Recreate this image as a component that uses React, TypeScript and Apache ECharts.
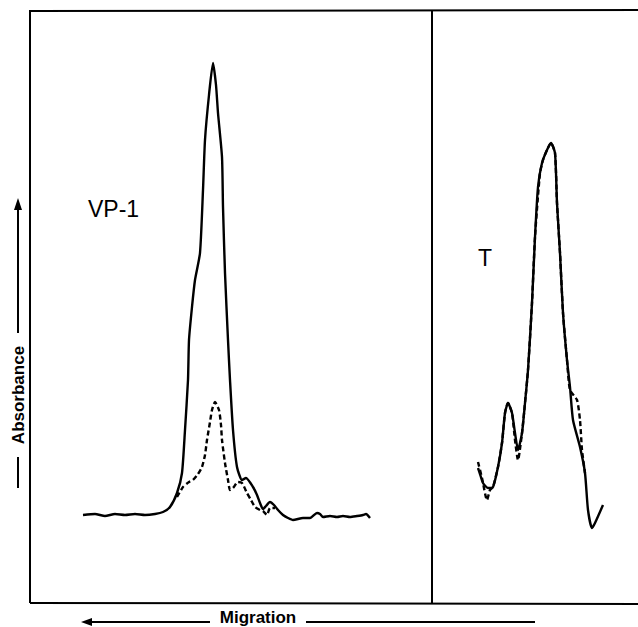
import React, { useEffect, useRef } from "react";
import * as echarts from "echarts";

// Left panel (VP-1): [migration, absorbance] in arbitrary units
const vp1Solid: [number, number][] = [
  [53, 88], [65, 89], [75, 87], [85, 89], [95, 88], [105, 89], [115, 88], [125, 89], [133, 91],
  [140, 96], [147, 110], [152, 130], [155, 173], [158, 223], [159, 263], [162, 296], [165, 323],
  [170, 350], [173, 413], [175, 463], [179, 508], [183, 540], [186, 518], [188, 490], [192, 446],
  [193, 396], [195, 330], [198, 263], [200, 223], [203, 173], [207, 136], [212, 123], [216, 125],
  [223, 116], [227, 108], [230, 100], [233, 94], [236, 97], [240, 101], [244, 98], [248, 93],
  [253, 88], [258, 85], [263, 83], [273, 85], [280, 85], [287, 90], [290, 89], [293, 86],
  [300, 87], [307, 86], [313, 87], [320, 86], [327, 87], [333, 88], [336, 89], [340, 85],
];
const vp1Dashed: [number, number][] = [
  [147, 106], [153, 116], [159, 121], [163, 123], [168, 129], [172, 136], [175, 148], [177, 163],
  [180, 181], [182, 193], [185, 201], [189, 193], [191, 178], [192, 163], [195, 140], [198, 123],
  [200, 113], [203, 115], [208, 121], [212, 120], [217, 110], [221, 103], [225, 96], [230, 93],
  [233, 92], [237, 88], [240, 95], [245, 95],
];
// Right panel (T)
const tSolid: [number, number][] = [
  [46, 135], [48, 129], [51, 120], [56, 115], [61, 116], [66, 136], [70, 160], [73, 190], [76, 200],
  [80, 190], [83, 170], [86, 153], [90, 170], [93, 200], [96, 233], [100, 300], [103, 366],
  [106, 416], [110, 440], [115, 453], [119, 460], [123, 450], [125, 400], [128, 350], [131, 290],
  [135, 243], [138, 216], [141, 183], [148, 156], [153, 130], [156, 93], [160, 75], [163, 80], [171, 98],
];
const tDashed: [number, number][] = [
  [46, 141], [50, 125], [55, 103], [58, 113], [61, 116], [66, 136], [70, 160], [73, 190], [76, 200],
  [80, 190], [83, 163], [86, 143], [90, 170], [93, 200], [96, 233], [100, 300], [103, 366],
  [108, 430], [111, 443], [115, 453], [119, 460], [123, 450], [125, 400], [128, 350], [131, 290],
  [135, 243], [138, 213], [145, 203], [148, 183], [150, 153], [153, 130],
];
const panelLabels = ["VP-1", "T"];
const xAxisTitle = "Migration";
const yAxisTitle = "Absorbance";

const FONT = "'Liberation Sans', Arial, Helvetica, sans-serif";

export default function App() {
  const ref = useRef<HTMLDivElement>(null);
  useEffect(() => {
    document.body.style.margin = "0";
    const chart = echarts.init(ref.current!, null, { renderer: "svg" });
    const line = (x1: number, y1: number, x2: number, y2: number, w = 2) => ({
      type: "line",
      shape: { x1, y1, x2, y2 },
      style: { stroke: "#000", lineWidth: w },
      silent: true,
    });
    const lineSeries = (data: [number, number][], idx: number, dashed: boolean) => ({
      type: "line",
      xAxisIndex: idx,
      yAxisIndex: idx,
      data,
      showSymbol: false,
      smooth: 0.2,
      lineStyle: { color: "#000", width: 2.4, type: dashed ? [5, 3] : "solid" },
      z: dashed ? 3 : 2,
    });
    chart.setOption({
      animation: false,
      backgroundColor: "#fff",
      grid: [
        { left: 30, top: 10, width: 402, height: 593 },
        { left: 432, top: 10, width: 206, height: 593 },
      ],
      xAxis: [
        { type: "value", gridIndex: 0, min: 0, max: 402, show: false },
        { type: "value", gridIndex: 1, min: 0, max: 206, show: false },
      ],
      yAxis: [
        { type: "value", gridIndex: 0, min: 0, max: 593, show: false },
        { type: "value", gridIndex: 1, min: 0, max: 593, show: false },
      ],
      series: [
        lineSeries(vp1Solid, 0, false),
        lineSeries(vp1Dashed, 0, true),
        lineSeries(tSolid, 1, false),
        lineSeries(tDashed, 1, true),
      ],
      graphic: [
        line(30, 11, 638, 10),
        line(30, 603, 638, 604),
        line(30, 10, 30, 603),
        line(432, 10, 432, 604),
        {
          type: "text",
          left: 88,
          top: 197,
          style: { text: panelLabels[0], font: `23px ${FONT}`, fill: "#000" },
        },
        {
          type: "text",
          left: 478,
          top: 246,
          style: { text: panelLabels[1], font: `23px ${FONT}`, fill: "#000" },
        },
        // Migration arrow
        {
          type: "text",
          x: 258,
          y: 617,
          style: {
            text: xAxisTitle,
            font: `bold 17px ${FONT}`,
            fill: "#000",
            align: "center",
            verticalAlign: "middle",
          },
        },
        line(90, 622, 210, 622, 2),
        line(306, 622, 535, 622, 2),
        {
          type: "polygon",
          shape: { points: [[81, 622], [92, 618], [92, 626]] },
          style: { fill: "#000" },
        },
        // Absorbance arrow
        {
          type: "text",
          x: 18,
          y: 395,
          rotation: Math.PI / 2,
          style: {
            text: yAxisTitle,
            font: `bold 17px ${FONT}`,
            fill: "#000",
            align: "center",
            verticalAlign: "middle",
          },
        },
        line(18, 208, 18, 333, 2),
        line(18, 457, 18, 488, 2),
        {
          type: "polygon",
          shape: { points: [[18, 198], [14, 210], [22, 210]] },
          style: { fill: "#000" },
        },
      ],
    });
    return () => chart.dispose();
  }, []);
  return <div ref={ref} style={{ width: 638, height: 627 }} />;
}
